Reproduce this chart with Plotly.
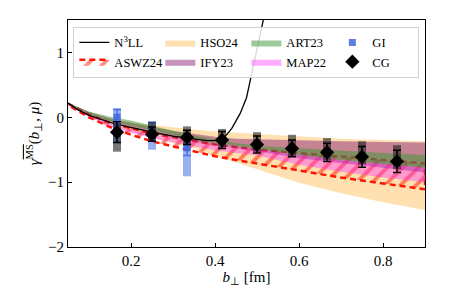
import plotly.graph_objects as go

# ---- data ----
xb = [0.05, 0.1, 0.15, 0.2, 0.25, 0.3, 0.35, 0.4, 0.45, 0.5, 0.6, 0.7, 0.8, 0.9]

hso_up = [0.22, 0.08, -0.02, -0.08, -0.12, -0.16, -0.19, -0.22, -0.24, -0.26, -0.30, -0.33, -0.35, -0.37]
hso_lo = [0.20, 0.02, -0.12, -0.23, -0.32, -0.40, -0.48, -0.58, -0.69, -0.80, -1.01, -1.17, -1.31, -1.43]

aswz_up = [0.21, 0.05, -0.09, -0.17, -0.25, -0.31, -0.37, -0.42, -0.46, -0.50, -0.55, -0.61, -0.66, -0.71]
aswz_lo = [0.19, 0.00, -0.15, -0.27, -0.37, -0.45, -0.53, -0.60, -0.66, -0.72, -0.82, -0.93, -1.02, -1.11]

ify_up = [0.22, 0.08, -0.02, -0.09, -0.15, -0.21, -0.26, -0.30, -0.33, -0.34, -0.36, -0.37, -0.38, -0.39]
ify_lo = [0.20, 0.04, -0.08, -0.17, -0.25, -0.32, -0.38, -0.43, -0.48, -0.52, -0.63, -0.71, -0.78, -0.85]

art_up = [0.22, 0.09, 0.01, -0.05, -0.13, -0.21, -0.28, -0.34, -0.40, -0.44, -0.48, -0.52, -0.55, -0.58]
art_lo = [0.20, 0.05, -0.06, -0.12, -0.20, -0.27, -0.34, -0.39, -0.44, -0.49, -0.58, -0.66, -0.72, -0.78]

map_up = [0.20, 0.03, -0.10, -0.19, -0.26, -0.32, -0.38, -0.43, -0.47, -0.50, -0.58, -0.66, -0.72, -0.78]
map_lo = [0.19, 0.01, -0.14, -0.24, -0.32, -0.39, -0.45, -0.51, -0.55, -0.59, -0.73, -0.84, -0.93, -1.00]

n3ll_x = [0.05, 0.075, 0.1, 0.125, 0.15, 0.175, 0.2, 0.25, 0.3, 0.35, 0.38, 0.40, 0.42,
          0.44, 0.46, 0.475, 0.49, 0.505, 0.515, 0.525]
n3ll_y = [0.22, 0.11, 0.03, -0.03, -0.08, -0.12, -0.16, -0.23, -0.29, -0.34, -0.36, -0.36, -0.33,
          -0.17, 0.06, 0.30, 0.75, 1.15, 1.50, 1.80]

cg_x = [0.1667, 0.25, 0.3333, 0.4167, 0.5, 0.5833, 0.6667, 0.75, 0.8333]
cg_y = [-0.23, -0.26, -0.31, -0.35, -0.42, -0.48, -0.54, -0.61, -0.68]
cg_err = [0.16, 0.11, 0.11, 0.13, 0.13, 0.13, 0.14, 0.16, 0.17]
cg_box_hi = [-0.09, -0.07, -0.14, -0.18, -0.23, -0.27, -0.32, -0.37, -0.43]
cg_box_lo = [-0.53, -0.37, -0.43, -0.47, -0.54, -0.60, -0.66, -0.73, -0.80]

gi_x = [0.1667, 0.25, 0.3333]
gi_y = [0.0, -0.20, -0.47]
gi_err = [0.12, 0.12, 0.12]
gi_box_hi = [0.14, -0.06, -0.39]
gi_box_lo = [-0.40, -0.50, -0.91]

xticks = [0.2, 0.4, 0.6, 0.8]
yticks = [-2, -1, 0, 1]

FONT = "Liberation Serif"

fig = go.Figure()


def band(name, up, lo, fillcolor, rank, line=None, pattern=None):
    kw = dict(
        x=xb + xb[::-1], y=up + lo[::-1], fill="toself", fillcolor=fillcolor,
        mode="lines", name=name, legendrank=rank, hoverinfo="skip",
        line=line if line else dict(width=0, color=fillcolor),
    )
    if pattern:
        kw["fillpattern"] = pattern
    fig.add_trace(go.Scatter(**kw))


band("HSO24", hso_up, hso_lo, "rgb(255,224,176)", 2)
band("ASWZ24", aswz_up, aswz_lo, "rgba(0,0,0,0)", 5,
     line=dict(color="rgb(255,20,0)", width=2.5, dash="6px,4px"),
     pattern=dict(shape="/", fgcolor="rgb(255,20,0)", bgcolor="rgba(0,0,0,0)",
                  size=11, solidity=0.35))
band("IFY23", ify_up, ify_lo, "rgba(140,40,120,0.5)", 6)
band("ART23", art_up, art_lo, "rgba(60,150,50,0.5)", 3)
band("MAP22", map_up, map_lo, "rgba(255,40,255,0.38)", 7)

fig.add_trace(go.Scatter(x=n3ll_x, y=n3ll_y, mode="lines", name="N<sup>3</sup>LL",
                         line=dict(color="black", width=1.3), legendrank=1))

# GI systematic boxes + points
fig.add_trace(go.Scatter(
    x=gi_x, y=[(a + b) / 2 for a, b in zip(gi_box_hi, gi_box_lo)], mode="markers",
    marker=dict(size=1, opacity=0), showlegend=False, hoverinfo="skip",
    error_y=dict(type="data", array=[(a - b) / 2 for a, b in zip(gi_box_hi, gi_box_lo)],
                 color="rgba(70,110,230,0.55)", thickness=8, width=0)))
fig.add_trace(go.Scatter(
    x=gi_x, y=gi_y, mode="markers", name="GI", legendrank=4,
    marker=dict(symbol="square", size=7, color="rgba(65,105,225,0.85)"),
    error_y=dict(type="data", array=gi_err, color="rgba(65,105,225,0.85)",
                 thickness=1.5, width=4)))

# CG systematic boxes + points
fig.add_trace(go.Scatter(
    x=cg_x, y=[(a + b) / 2 for a, b in zip(cg_box_hi, cg_box_lo)], mode="markers",
    marker=dict(size=1, opacity=0), showlegend=False, hoverinfo="skip",
    error_y=dict(type="data", array=[(a - b) / 2 for a, b in zip(cg_box_hi, cg_box_lo)],
                 color="rgba(30,30,30,0.6)", thickness=8, width=0)))
fig.add_trace(go.Scatter(
    x=cg_x, y=cg_y, mode="markers", name="CG", legendrank=8,
    marker=dict(symbol="diamond", size=11, color="black"),
    error_y=dict(type="data", array=cg_err, color="black", thickness=1.5, width=4)))

axis_common = dict(
    showgrid=False, zeroline=False, showline=True, linecolor="black", linewidth=1.2,
    mirror=True, ticks="inside", ticklen=4, tickwidth=1, tickcolor="black",
    tickfont=dict(family=FONT, size=15, color="black"), automargin=False,
)

# the page body adds an 8 px offset, so the figure is sized to fit the window
fig.update_layout(
    width=449, height=284,
    margin=dict(l=60, r=32, t=12, b=45),
    paper_bgcolor="white", plot_bgcolor="white",
    font=dict(family=FONT, color="black"),
    xaxis=dict(range=[0.05, 0.9], tickvals=xticks, ticktext=[str(v) for v in xticks],
               title=dict(text="<i>b</i><sub>⊥</sub> [fm]", font=dict(family=FONT, size=15),
                          standoff=0),
               **axis_common),
    yaxis=dict(range=[-2, 1.5], tickvals=yticks,
               ticktext=["−2", "−1", "0", "1"],
               title=dict(text="<i>γ</i><sup><span style='text-decoration:overline'>MS</span></sup>(<i>b</i><sub>⊥</sub>, <i>μ</i>)",
                          font=dict(family=FONT, size=15), standoff=4),
               **axis_common),
    legend=dict(
        orientation="h", x=0.015, y=0.97, xanchor="left", yanchor="top",
        bgcolor="rgba(255,255,255,0.85)", bordercolor="rgb(210,210,210)", borderwidth=1,
        font=dict(family=FONT, size=12.5, color="black"),
        entrywidth=41, entrywidthmode="pixels", itemwidth=30,
        traceorder="normal",
    ),
    showlegend=True,
)

fig.write_html("out.html")
